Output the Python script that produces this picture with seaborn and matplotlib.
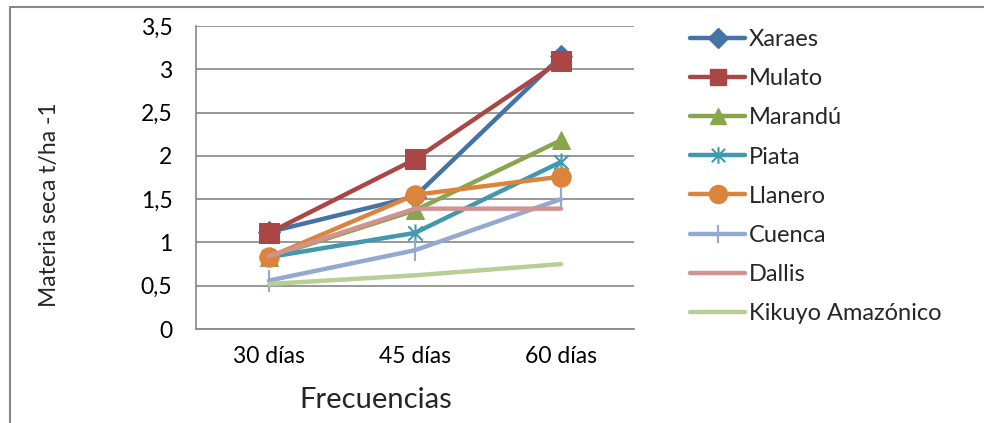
import numpy as np
import pandas as pd
import matplotlib
matplotlib.use("Agg")
import matplotlib.pyplot as plt
from matplotlib.path import Path
from matplotlib.lines import Line2D
import seaborn as sns

# Data: dry matter yield (t/ha) by cutting frequency
frecuencias = ["30 días", "45 días", "60 días"]
xaraes = [1.12, 1.53, 3.15]
mulato = [1.11, 1.96, 3.10]
marandu = [0.83, 1.37, 2.18]
piata = [0.83, 1.11, 1.93]
llanero = [0.83, 1.55, 1.76]
cuenca = [0.56, 0.91, 1.50]
dallis = [0.84, 1.39, 1.39]
kikuyo = [0.52, 0.62, 0.75]

series_names = ["Xaraes", "Mulato", "Marandú", "Piata", "Llanero",
                "Cuenca", "Dallis", "Kikuyo Amazónico"]
series_values = [xaraes, mulato, marandu, piata, llanero, cuenca, dallis, kikuyo]

colors = ["#4572A7", "#AA4643", "#89A54E", "#4198AF", "#DB843D",
          "#93A9CF", "#D19392", "#B9CD96"]

# asterisk marker: vertical stroke plus an X
star = Path([(0, -1), (0, 1), (-0.8, -0.8), (0.8, 0.8), (-0.8, 0.8), (0.8, -0.8)],
            [Path.MOVETO, Path.LINETO, Path.MOVETO, Path.LINETO, Path.MOVETO, Path.LINETO])

markers = ["D", "s", "^", star, "o", "|", None, None]
msizes = [11, 14, 13, 13, 14, 16, 0, 0]
leg_msizes = [10, 12, 11, 12, 13, 13, 0, 0]
filled = [True, True, True, False, True, False, False, False]

sns.set_theme(style="white")
plt.rcParams["font.family"] = ["Lato", "DejaVu Sans"]

fig = plt.figure(figsize=(9.84, 4.23), dpi=100)
ax = fig.add_axes([196 / 984, 1 - 329 / 423, (634 - 196) / 984, (329 - 26) / 423])

rows = []
for name, vals in zip(series_names, series_values):
    for f, v in zip(frecuencias, vals):
        rows.append({"Frecuencias": f, "valor": v, "serie": name})
df = pd.DataFrame(rows)

handles = []
for i, name in enumerate(series_names):
    sub = df[df["serie"] == name]
    sns.lineplot(data=sub, x="Frecuencias", y="valor", ax=ax, color=colors[i],
                 linewidth=3.2, sort=False, zorder=3 + i, legend=False)
    line = ax.lines[-1]
    line.set_solid_capstyle("round")
    if markers[i] is not None:
        line.set_marker(markers[i])
        line.set_markersize(msizes[i])
        line.set_markeredgecolor(colors[i])
        if filled[i]:
            line.set_markerfacecolor(colors[i])
        else:
            line.set_markeredgewidth(1.5)
    handles.append(Line2D([0], [0], color=colors[i], linewidth=3.2,
                          solid_capstyle="round",
                          marker=markers[i] if markers[i] is not None else "",
                          markersize=leg_msizes[i],
                          markerfacecolor=colors[i], markeredgecolor=colors[i],
                          markeredgewidth=1.5 if not filled[i] else 1.0))

ax.set_xlim(-0.5, 2.5)
ax.set_ylim(0, 3.5)
ax.set_yticks(np.arange(0, 3.51, 0.5))
ax.set_yticklabels(["0", "0,5", "1", "1,5", "2", "2,5", "3", "3,5"])
ax.yaxis.grid(True, color="#868686", linewidth=1.2)
ax.set_axisbelow(True)
for s in ["top", "right"]:
    ax.spines[s].set_visible(False)
for s in ["left", "bottom"]:
    ax.spines[s].set_color("#868686")
    ax.spines[s].set_linewidth(1.2)
ax.tick_params(axis="y", length=0, pad=17, labelsize=16.5, colors="black")
ax.tick_params(axis="x", length=0, pad=12, labelsize=16.5, colors="black")
ax.set_xlabel("")
ax.set_ylabel("")
fig.text(376 / 984, 1 - 400 / 423, "Frecuencias", fontsize=21,
         ha="center", va="center")
fig.text(50 / 984, 1 - 205 / 423, "Materia seca t/ha -1", fontsize=16.5,
         rotation=90, ha="center", va="center")

leg = ax.legend(handles=handles, labels=series_names, loc="upper left",
                bbox_to_anchor=(690 / 984, 1 - 29 / 423), bbox_transform=fig.transFigure,
                frameon=False, fontsize=17, handlelength=2.35, handletextpad=0.15,
                labelspacing=0.77, borderaxespad=0, borderpad=0)

# outer chart border (left and top edges)
fig.add_artist(Line2D([10 / 984, 10 / 984], [0, 1 - 7 / 423], color="#868686",
                      linewidth=1.5, transform=fig.transFigure))
fig.add_artist(Line2D([10 / 984, 1], [1 - 7 / 423, 1 - 7 / 423], color="#868686",
                      linewidth=1.5, transform=fig.transFigure))

fig.savefig("out.png", dpi=100)
